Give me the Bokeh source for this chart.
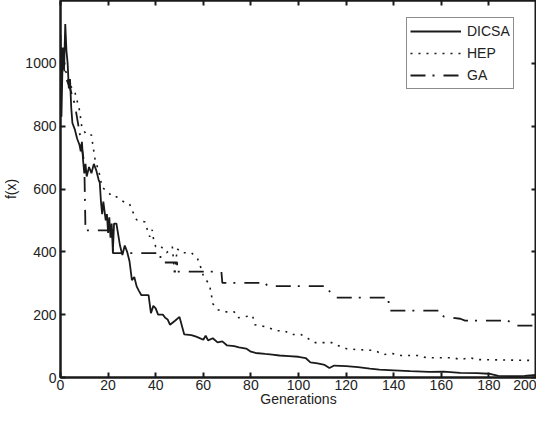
from bokeh.plotting import figure
from bokeh.models import LinearAxis, Legend, LegendItem, FixedTicker, Range1d, CustomLabelingPolicy
from bokeh.embed import file_html
from bokeh.resources import INLINE

# ---- data ----
dicsa_x = [0, 0.4, 1, 1.5, 2, 2.5, 3, 3.5, 4, 4.5, 5, 6, 7, 8, 8.5, 9, 9.5, 10, 10.5, 11, 12, 13, 14,
           15, 16, 16.5, 17, 17.5, 18, 19, 19.5, 20, 20.5, 21, 21.5, 22, 22.5, 23.5, 25, 26, 27, 28,
           29, 30, 31, 32, 33, 34, 37, 38, 39, 40, 41, 43, 44, 45, 46, 48, 50, 51, 52, 55, 57, 58,
           60, 61, 62, 64, 66, 68, 70, 73, 75, 78, 80, 82, 86, 89, 92, 96, 100, 103, 105, 108, 111,
           113, 115, 120, 125, 130, 134, 140, 147, 155, 161, 168, 175, 180, 184, 190, 195, 200]
dicsa_y = [1090, 830, 1050, 980, 1125, 1040, 1000, 920, 950, 860, 810, 790, 760, 740, 720, 750, 690,
           650, 680, 640, 670, 650, 680, 660, 630, 620, 560, 520, 560, 500, 520, 460, 510, 445, 490,
           400, 490, 490, 420, 390, 420, 400, 370, 310, 320, 290, 275, 262, 262, 205, 228, 220, 200,
           200, 190, 185, 168, 180, 193, 165, 137, 135, 130, 127, 120, 133, 118, 125, 112, 115, 102,
           100, 96, 92, 82, 78, 75, 73, 70, 68, 66, 62, 48, 45, 40, 30, 38, 36, 33, 28, 25, 23, 20,
           18, 19, 15, 14, 12, 5, 4, 5, 8]

hep_x = [0, 2, 4, 6, 7, 8, 9, 11, 13, 13.5, 14.6, 16, 16.7, 17.5, 20, 21.8, 23.6, 25, 26.8, 29, 30.4,
         32, 35.5, 36.5, 37.5, 38.5, 39, 40, 42, 44.6, 47, 48, 49, 51, 55, 57.6, 59, 60, 62.6, 63.4,
         64, 66, 69.6, 73, 74.4, 78, 80.7, 81.6, 83.5, 86, 91, 94, 97, 101, 104, 107, 114, 117.7,
         120, 124, 132, 135.7, 139.5, 143, 150, 153.7, 165, 168, 172, 175, 200]
hep_y = [1050, 980, 930, 910, 880, 850, 795, 772, 772, 745, 690, 660, 635, 605, 590, 575, 575, 568,
         558, 552, 527, 502, 495, 470, 448, 470, 444, 416, 419, 397, 416, 325, 410, 397, 397, 378,
         349, 324, 295, 263, 235, 216, 209, 209, 190, 194, 197, 168, 165, 162, 149, 149, 137, 137,
         124, 111, 111, 98, 92, 89, 86, 73, 76, 70, 70, 63, 63, 57, 63, 57, 54]

ga_x = [0, 2, 4, 6, 8, 10, 10.5, 22, 22, 42, 42, 49, 49, 67.6, 68, 86, 87, 111, 115.6, 137.8, 138,
        159, 161, 168, 170, 188, 191, 199, 200]
ga_y = [1050, 960, 920, 870, 780, 680, 468, 468, 396, 396, 366, 366, 337, 337, 301, 301, 291, 291,
        254, 254, 213, 213, 194, 187, 181, 181, 165, 165, 152]

x_ticks = list(range(0, 201, 20))
y_ticks = list(range(0, 1001, 200))

FONT = "Liberation Sans"
INK = "#1a1a1a"
TXT = "#222222"

p = figure(width=536, height=409, x_range=Range1d(0, 200), y_range=Range1d(0, 1200),
           output_backend="svg", toolbar_location=None,
           min_border_left=0, min_border_right=0, min_border_top=0, min_border_bottom=0)
p.xgrid.visible = False
p.ygrid.visible = False
p.outline_line_color = INK
p.outline_line_width = 2
p.background_fill_color = "white"
p.border_fill_color = "white"

r1 = p.line(dicsa_x, dicsa_y, line_color=INK, line_width=1.8)
r2 = p.line(hep_x, hep_y, line_color=INK, line_width=1.6, line_dash="2 6")
r3 = p.line(ga_x, ga_y, line_color=INK, line_width=1.8, line_dash="15 7 2 9")

def style_axis(ax, labels=True):
    ax.major_tick_in = 5
    ax.major_tick_out = 0
    ax.major_tick_line_width = 2
    ax.major_tick_line_color = INK
    ax.minor_tick_line_color = None
    ax.axis_line_color = INK
    ax.axis_line_width = 2
    if labels:
        ax.major_label_text_font = FONT
        ax.major_label_text_font_size = "14px"
        ax.major_label_text_color = TXT
        ax.axis_label_text_font = FONT
        ax.axis_label_text_font_size = "14px"
        ax.axis_label_text_font_style = "normal"
        ax.axis_label_text_color = TXT
    else:
        ax.major_label_text_font_size = "0px"
        ax.major_label_standoff = 0
        ax.axis_label_standoff = 0
        ax.major_label_policy = CustomLabelingPolicy(code="return []")

p.xaxis.ticker = FixedTicker(ticks=x_ticks)
p.yaxis.ticker = FixedTicker(ticks=y_ticks)
p.xaxis.axis_label = "Generations"
p.yaxis.axis_label = "f(x)"
style_axis(p.xaxis[0])
style_axis(p.yaxis[0])
p.xaxis.major_label_standoff = 2
p.xaxis.axis_label_standoff = -2
p.yaxis.major_label_standoff = 4
p.yaxis.axis_label_standoff = 3

top = LinearAxis(ticker=FixedTicker(ticks=x_ticks))
style_axis(top, labels=False)
p.add_layout(top, "above")
right = LinearAxis(ticker=FixedTicker(ticks=y_ticks))
style_axis(right, labels=False)
p.add_layout(right, "right")

legend = Legend(items=[LegendItem(label="DICSA", renderers=[r1]),
                       LegendItem(label="HEP", renderers=[r2]),
                       LegendItem(label="GA", renderers=[r3])],
                location=(346, 288))
legend.label_text_font = FONT
legend.label_text_font_size = "14px"
legend.label_text_color = TXT
legend.glyph_width = 51
legend.glyph_height = 20
legend.label_height = 20
legend.label_standoff = 6
legend.padding = 3
legend.spacing = 2
legend.margin = 0
legend.border_line_color = INK
legend.border_line_width = 1.5
legend.background_fill_color = "white"
legend.background_fill_alpha = 1
p.add_layout(legend)

open("out.html", "w").write(file_html(p, INLINE))
